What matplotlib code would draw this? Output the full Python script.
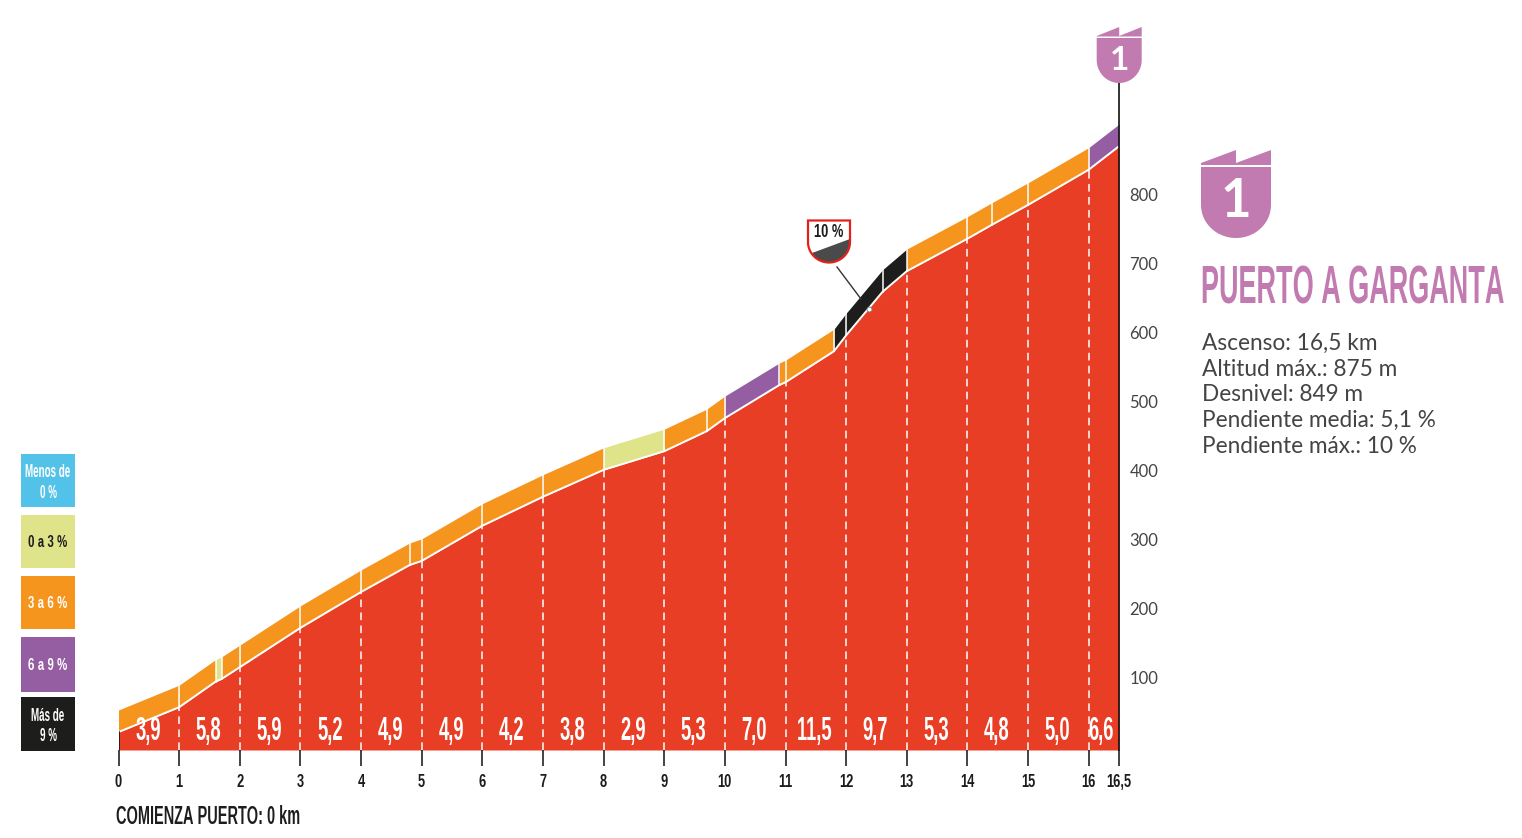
import matplotlib
matplotlib.use("Agg")
import os
import numpy as np
import matplotlib.pyplot as plt
from matplotlib import font_manager as fm
from matplotlib.patches import Polygon, Rectangle
from matplotlib.transforms import ScaledTranslation
from fontTools.ttLib import TTFont
from fontTools.ttLib.tables._g_l_y_f import GlyphCoordinates
from fontTools.ttLib.tables import ttProgram

# ---------- data ----------
km_points = [0, 1, 1.6, 1.7, 2, 3, 4, 4.8, 5, 6, 7, 8, 9, 9.7, 10, 10.9, 11, 11.8, 12, 12.6, 13, 14, 14.4, 15, 16, 16.5]
altitudes = [26, 62, 99, 103, 120, 177, 229, 268, 274, 325, 367, 406, 433, 462, 481, 529, 533, 578, 601, 664, 694, 741, 761, 790, 841, 875]
segment_classes = ['o', 'o', 'g', 'o', 'o', 'o', 'o', 'o', 'o', 'o', 'o', 'g', 'o', 'o', 'p', 'o', 'o', 'k', 'k', 'k', 'o', 'o', 'o', 'o', 'p']
band_height = 32
km_ticks = [0, 1, 2, 3, 4, 5, 6, 7, 8, 9, 10, 11, 12, 13, 14, 15, 16, 16.5]
km_labels = ['0', '1', '2', '3', '4', '5', '6', '7', '8', '9', '10', '11', '12', '13', '14', '15', '16', '16,5']
slope_positions = [0.5, 1.5, 2.5, 3.5, 4.5, 5.5, 6.5, 7.5, 8.5, 9.5, 10.5, 11.5, 12.5, 13.5, 14.5, 15.5, 16.22]
slope_labels = ['3,9', '5,8', '5,9', '5,2', '4,9', '4,9', '4,2', '3,8', '2,9', '5,3', '7,0', '11,5', '9,7', '5,3', '4,8', '5,0', '6,6']
alt_ticks = [100, 200, 300, 400, 500, 600, 700, 800]
legend_labels = ['Menos de\n0 %', '0 a 3 %', '3 a 6 %', '6 a 9 %', 'Más de\n9 %']
legend_keys = ['b', 'g', 'o', 'p', 'k']
info_lines = ['Ascenso: 16,5 km', 'Altitud máx.: 875 m', 'Desnivel: 849 m', 'Pendiente media: 5,1 %', 'Pendiente máx.: 10 %']

colors = {'b': '#53C2E8', 'g': '#DFE48A', 'o': '#F6951E', 'p': '#955EA2', 'k': '#1D1D1B'}
RED = '#E83E26'
MAUVE = '#C27BB0'


def condensed(scale):
    """A horizontally squeezed copy of Liberation Sans Bold, used as an ordinary font."""
    src = fm.findfont(fm.FontProperties(family='Liberation Sans', weight='bold'))
    f = TTFont(src)
    glyf = f['glyf']
    hmtx = f['hmtx']
    for name in glyf.keys():
        g = glyf[name]
        if g.isComposite():
            for c in g.components:
                c.x = int(round(c.x * scale))
        elif g.numberOfContours > 0:
            g.coordinates = GlyphCoordinates([(round(x * scale), y) for x, y in g.coordinates])
        if g.numberOfContours != 0:
            prog = ttProgram.Program()
            prog.fromBytecode(b'')
            g.program = prog
        adv, lsb = hmtx.metrics[name]
        hmtx.metrics[name] = (int(round(adv * scale)), int(round(lsb * scale)))
    for tag in ['fpgm', 'prep', 'cvt ', 'hdmx', 'VDMX', 'LTSH', 'kern', 'GPOS', 'GSUB', 'gasp']:
        if tag in f:
            del f[tag]
    path = os.path.abspath(f'cond_{int(scale * 100)}.ttf')
    f.save(path)
    return fm.FontProperties(fname=path)


def fp(base, size):
    p = base.copy()
    p.set_size(size)
    return p


COND50 = condensed(0.50)
COND55 = condensed(0.55)
COND66 = condensed(0.66)
LIGHT = ['Lato', 'DejaVu Sans']

W, H = 1522, 838
fig = plt.figure(figsize=(W / 100, H / 100), dpi=100, facecolor='white')

top_px = 100
ax = fig.add_axes([118.5 / W, (H - 750) / H, (1119 - 118.5) / W, (750 - top_px) / H])
ax.set_xlim(0, 16.5)
ax.set_ylim(0, (750 - top_px) / 0.69)
ax.patch.set_alpha(0)
for s in ax.spines.values():
    s.set_visible(False)

km = np.array(km_points)
alt = np.array(altitudes)
ax.fill_between(km, 0, alt, color=RED, lw=0, zorder=1)
for i, c in enumerate(segment_classes):
    xs = km[i:i + 2]
    ax.fill_between(xs, alt[i:i + 2], alt[i:i + 2] + band_height, color=colors[c], lw=0, zorder=2)
ax.plot(km, alt, color='white', lw=1.4, zorder=3, solid_capstyle='butt')
for x, a in zip(km[1:-1], alt[1:-1]):
    ax.plot([x, x], [a, a + band_height], color='white', lw=1.2, alpha=0.9, zorder=3)
for x in km_ticks[1:-1]:
    a = np.interp(x, km, alt)
    ax.plot([x, x], [0, a], color='white', lw=1.1, dashes=(5, 3.5), zorder=3)
ax.plot([0, 0], [0, alt[0]], color='#111111', lw=1.2, zorder=4)
ax.plot([16.5, 16.5], [0, 1 + (750 - 83) / 0.69], color='#111111', lw=1.2, zorder=4, clip_on=False)

ax.set_xticks(km_ticks, km_labels)
for lab in ax.get_xticklabels():
    lab.set_fontproperties(fp(COND66, 14))
    lab.set_color('#1D1D1B')
ax.tick_params(axis='x', length=11.5, width=1.1, color='#111111', pad=6)
ax.set_yticks(alt_ticks, [str(v) for v in alt_ticks], fontfamily=LIGHT, fontsize=12, color='#444444')
ax.yaxis.tick_right()
ax.tick_params(axis='y', length=0, pad=7.5)
lift = ScaledTranslation(0, 3.5 / 100, fig.dpi_scale_trans)
for lab in ax.get_yticklabels():
    lab.set_transform(lab.get_transform() + lift)

for x, s in zip(slope_positions, slope_labels):
    ax.text(x - 0.015, 27, s, color='white', ha='center', va='center', fontproperties=fp(COND55, 24), zorder=5)

ov = fig.add_axes([0, 0, 1, 1])
ov.set_xlim(0, W)
ov.set_ylim(H, 0)
ov.axis('off')
ov.patch.set_alpha(0)

ov.text(116, 817, 'COMIENZA PUERTO: 0 km', fontproperties=fp(COND55, 19), color='#1D1D1B', ha='left', va='center')

legend_boxes = [(454, 507), (515, 568), (576, 629), (637, 692), (697, 751)]
for (y0, y1), lab, key in zip(legend_boxes, legend_labels, legend_keys):
    ov.add_patch(Rectangle((21, y0), 54, y1 - y0, color=colors[key], lw=0))
    two_lines = '\n' in lab
    ov.text(48, (y0 + y1) / 2 + (2.5 if two_lines else 0.5), lab, ha='center', va='center',
            fontproperties=fp(COND55 if two_lines else COND66, 13 if two_lines else 12.5),
            linespacing=1.3, color='#1D1D1B' if key == 'g' else 'white')


def badge(x0, x1, flag_top, flag_low, flag_bot, body_top, curve_y, bottom, num_fs, num_y):
    xm = (x0 + x1) / 2
    ov.add_patch(Polygon([(x0, flag_low), (xm, flag_top), (xm, flag_low), (x1, flag_top), (x1, flag_bot), (x0, flag_bot)],
                         closed=True, color=MAUVE, lw=0))
    rx = (x1 - x0) / 2
    ry = bottom - curve_y
    t = np.linspace(np.pi, 0, 60)
    pts = [(x0, body_top)] + [(xm + rx * np.cos(a), curve_y + ry * np.sin(a)) for a in t] + [(x1, body_top)]
    ov.add_patch(Polygon(pts, closed=True, color=MAUVE, lw=0))
    ov.text(xm, num_y, '1', color='white', ha='center', va='center', fontfamily=['Lato', 'DejaVu Sans'],
            fontweight='bold', fontsize=num_fs)


badge(1096.7, 1141.7, 27, 36, 36.5, 38, 60, 83, 24, 60)
badge(1201, 1271, 150, 163, 165, 167, 205, 238, 38, 201)

ov.text(1201, 289, 'PUERTO A GARGANTA', color=MAUVE, fontproperties=fp(COND50, 39), ha='left', va='center')

for y, line in zip([343.5, 369.5, 394.5, 420.5, 446.5], info_lines):
    ov.text(1202, y, line, fontfamily=LIGHT, fontsize=16.3, color='#444444', ha='left', va='center')

RIM = '#E2211C'
sx0, sx1 = 808, 850
sy0, scurve, sy1 = 220.5, 242, 262.5
t = np.linspace(np.pi, 0, 50)
shield = [(sx0, sy0)] + [(829 + 21 * np.cos(a), scurve + (sy1 - scurve) * np.sin(a)) for a in t] + [(sx1, sy0)]
clipper = Polygon(shield, closed=True, facecolor='white', edgecolor='none', zorder=6)
ov.add_patch(clipper)
dark = Polygon([(808, 254.5), (850, 239), (850, 266), (808, 266)], closed=True, facecolor='#4A4A4A', edgecolor='none', zorder=7)
ov.add_patch(dark)
dark.set_clip_path(clipper)
ov.add_patch(Polygon(shield, closed=True, facecolor='none', edgecolor=RIM, lw=1.6, zorder=8))
ov.text(829, 232, '10 %', fontproperties=fp(COND66, 14), color='#1D1D1B', ha='center', va='center', zorder=9)
ov.plot([837, 861], [267, 299], color='#333333', lw=1, zorder=6)
ov.plot([869], [309.5], 'o', ms=3.6, mfc='white', mec='#777777', mew=0.6, zorder=6)

fig.savefig('out.png', dpi=100, facecolor='white')
